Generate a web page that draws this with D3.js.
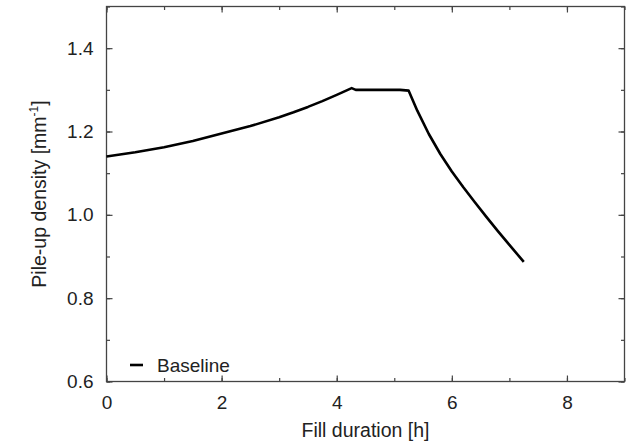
<!DOCTYPE html>
<html>
<head>
<meta charset="utf-8">
<script src="https://cdn.jsdelivr.net/npm/d3@7"></script>
<style>
  body { margin: 0; background: #fff; }
  text { font-family: "Liberation Sans", Arial, sans-serif; fill: #222; }
</style>
</head>
<body>
<div id="chart"></div>
<script>
// data
var fillHours = [0, 0.5, 1.0, 1.5, 2.0, 2.5, 3.0, 3.25, 3.5, 3.75, 4.0, 4.26, 4.33, 5.1, 5.25,
                 5.4, 5.6, 5.8, 6.0, 6.2, 6.4, 6.6, 6.8, 7.0, 7.25];
var pileUp    = [1.140, 1.150, 1.162, 1.177, 1.195, 1.213, 1.234, 1.246, 1.259, 1.273, 1.288, 1.304, 1.300, 1.300, 1.298,
                 1.250, 1.194, 1.146, 1.104, 1.066, 1.030, 0.995, 0.961, 0.928, 0.887];
var xTicks = [0, 2, 4, 6, 8];
var yTicks = [0.6, 0.8, 1.0, 1.2, 1.4];
var seriesName = "Baseline";

// svg set-up
var width = 631, height = 442;
var plotL = 106.5, plotR = 624.5, plotT = 6.5, plotB = 381.5;

var svg = d3.select("#chart").append("svg")
    .attr("width", width).attr("height", height);

var x = d3.scaleLinear().domain([0, 9]).range([plotL, plotR]);
var y = d3.scaleLinear().domain([0.6, 1.5]).range([plotB, plotT]);

var minorX = d3.range(0, 9.01, 1);
var minorY = d3.range(0.6, 1.501, 0.1);

var axisColor = "#444";

// ticks, inward on all four sides
function ticks(axis, vals, size) {
  return axis.tickValues(vals).tickSize(-size).tickFormat("");
}
svg.append("g").attr("transform", "translate(0," + plotB + ")")
    .call(ticks(d3.axisBottom(x), minorX, 3.5));
svg.append("g").attr("transform", "translate(0," + plotT + ")")
    .call(ticks(d3.axisTop(x), minorX, 3.5));
svg.append("g").attr("transform", "translate(" + plotL + ",0)")
    .call(ticks(d3.axisLeft(y), minorY, 3.5));
svg.append("g").attr("transform", "translate(" + plotR + ",0)")
    .call(ticks(d3.axisRight(y), minorY, 3.5));

svg.append("g").attr("transform", "translate(0," + plotB + ")")
    .call(d3.axisBottom(x).tickValues(xTicks).tickSize(-6).tickPadding(14).tickFormat(d3.format("d")));
svg.append("g").attr("transform", "translate(0," + plotT + ")")
    .call(ticks(d3.axisTop(x), xTicks, 6));
svg.append("g").attr("transform", "translate(" + plotL + ",0)")
    .call(d3.axisLeft(y).tickValues(yTicks).tickSize(-6).tickPadding(13).tickFormat(d3.format(".1f")));
svg.append("g").attr("transform", "translate(" + plotR + ",0)")
    .call(ticks(d3.axisRight(y), yTicks, 6));

svg.selectAll(".domain").remove();
svg.selectAll(".tick line").attr("stroke", axisColor).attr("stroke-width", 1.2);
svg.selectAll(".tick text").style("font-size", "19px").attr("fill", "#222")
    .style("font-family", "'Liberation Sans', Arial, sans-serif");

// frame
svg.append("rect")
    .attr("x", plotL).attr("y", plotT)
    .attr("width", plotR - plotL).attr("height", plotB - plotT)
    .attr("fill", "none").attr("stroke", axisColor).attr("stroke-width", 1.3);

// curve
var line = d3.line()
    .x(function(d, i) { return x(fillHours[i]); })
    .y(function(d) { return y(d); });

svg.append("path")
    .attr("d", line(pileUp))
    .attr("fill", "none")
    .attr("stroke", "#000")
    .attr("stroke-width", 2.6)
    .attr("stroke-linejoin", "round");

// legend
svg.append("line")
    .attr("x1", 130).attr("x2", 143).attr("y1", 365).attr("y2", 365)
    .attr("stroke", "#000").attr("stroke-width", 2.6);
svg.append("text")
    .attr("x", 157).attr("y", 372)
    .style("font-size", "19px")
    .text(seriesName);

// axis titles
svg.append("text")
    .attr("x", (plotL + plotR) / 2).attr("y", 437)
    .attr("text-anchor", "middle")
    .style("font-size", "19.5px")
    .text("Fill duration [h]");

var yt = svg.append("text")
    .attr("transform", "translate(46," + ((plotT + plotB) / 2) + ") rotate(-90)")
    .attr("text-anchor", "middle")
    .style("font-size", "19.5px");
yt.append("tspan").text("Pile-up density [mm");
yt.append("tspan").attr("dy", -8).style("font-size", "12px").text("-1");
yt.append("tspan").attr("dy", 8).text("]");
</script>
</body>
</html>
